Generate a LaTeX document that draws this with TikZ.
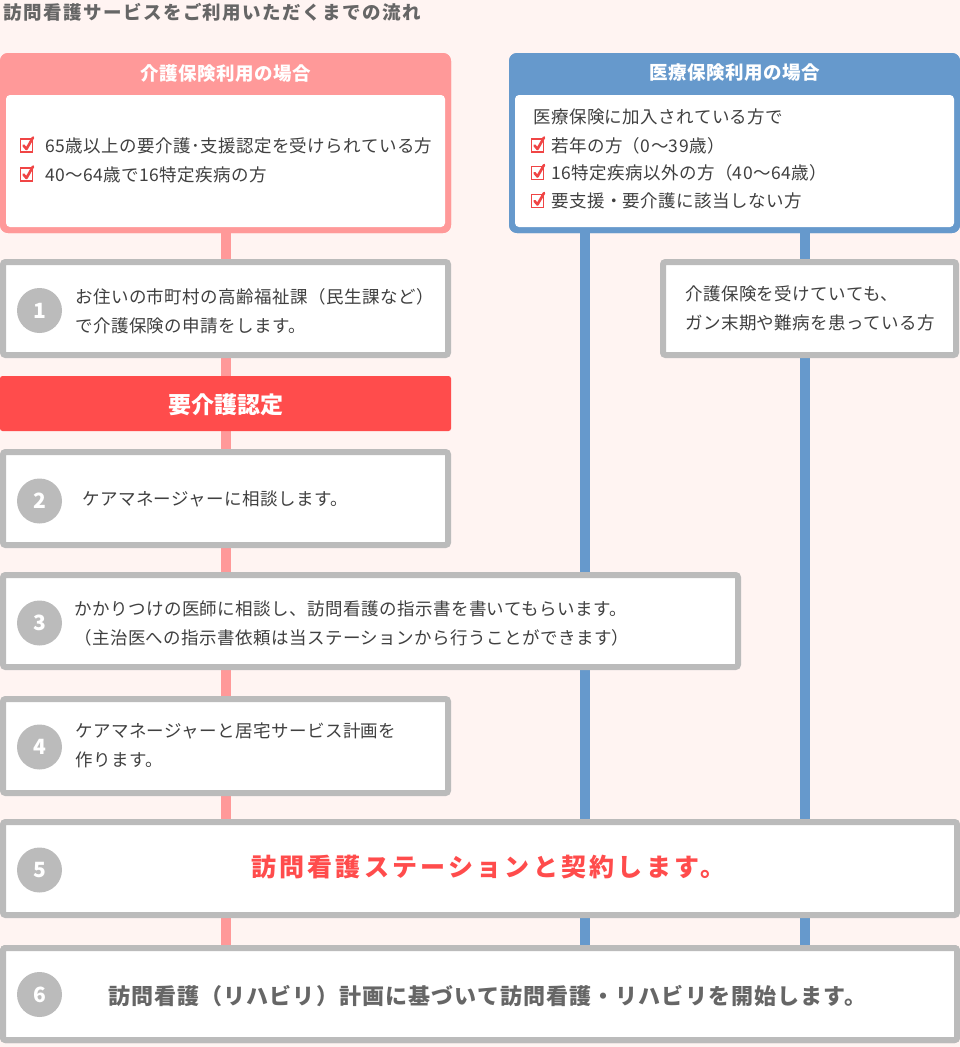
\documentclass[tikz,border=0pt]{standalone}
\usepackage{fontspec}
\setmainfont{Noto Sans CJK JP}
\definecolor{bg}{HTML}{FFF4F2}
\definecolor{pinkc}{HTML}{FF9999}
\definecolor{bluec}{HTML}{6699CC}
\definecolor{grayb}{HTML}{BBBBBB}
\definecolor{redc}{HTML}{FF4C4C}
\definecolor{txt}{HTML}{404040}
\definecolor{titlec}{HTML}{666666}
\definecolor{chkc}{HTML}{F04545}
\begin{document}
\begin{tikzpicture}[x=1pt,y=-1pt,
  stepbox/.style={draw=grayb, line width=6pt, fill=white, rounded corners=2.5pt, inner sep=0pt},
  topbox/.style={rounded corners=8pt, inner sep=0pt},
  innerw/.style={fill=white, rounded corners=4pt, inner sep=0pt},
  hdr/.style={text=white, font=\bfseries\fontsize{18.5}{20}\selectfont\addfontfeature{LetterSpace=3}, inner sep=0pt},
  body/.style={anchor=west, inner sep=0pt, text=txt, align=left, font=\fontsize{17.5}{29}\selectfont\addfontfeature{LetterSpace=2.5}},
  numc/.style={circle, fill=grayb, minimum size=45pt, inner sep=0pt, text=white, font=\bfseries\fontsize{21}{21}\selectfont},
  vline/.style={line width=10pt},
  chkbox/.pic={
    \draw[chkc, line width=1.4pt] (-6,-6.5) rectangle (6,6.5);
    \draw[chkc, line width=2.6pt, line cap=round, line join=round] (-3,0) -- (0,3.5) -- (6.5,-8);
  }]
\fill[bg] (0,0) rectangle (960,1047);
\useasboundingbox (0,0) rectangle (960,1047);

% title
\node[anchor=west, inner sep=0pt, text=titlec, font=\bfseries\fontsize{18.5}{20}\selectfont\addfontfeature{LetterSpace=8}] (title) at (3,12) {訪問看護サービスをご利用いただくまでの流れ};

% top boxes (shapes)
\node[topbox, fill=pinkc, minimum width=451, minimum height=180] (kaigo) at (225.5,143) {};
\node[topbox, fill=bluec, minimum width=451, minimum height=180] (iryo) at (734.5,143) {};

% bottom box needed for connectors
\node[stepbox, minimum width=954, minimum height=92] (s6) at (480,994) {};

% connectors
\coordinate (pk) at (226,0);
\coordinate (b1) at (585,0);
\coordinate (b2) at (805,0);
\draw[vline, pinkc] (kaigo.south -| pk) -- (s6.north -| pk);
\draw[vline, bluec] (iryo.south -| b1) -- (s6.north -| b1);
\draw[vline, bluec] (iryo.south -| b2) -- (s6.north -| b2);

% top boxes over lines
\node[topbox, fill=pinkc, minimum width=451, minimum height=180] (kaigo2) at (225.5,143) {};
\node[topbox, fill=bluec, minimum width=451, minimum height=180] (iryo2) at (734.5,143) {};
\node[innerw, minimum width=439, minimum height=132] (kaigoin) at (225.5,161) {};
\node[innerw, minimum width=439, minimum height=132] (iryoin) at (734.5,161) {};
\node[hdr] (kaigoh) at (225.5,73) {介護保険利用の場合};
\node[hdr] (iryoh) at (734.5,73) {医療保険利用の場合};

% left list
\pic at (26.5,145.5) {chkbox};
\node[body] (k1) at (45,145.5) {65歳以上の要介護･支援認定を受けられている方};
\pic at (26.5,174.5) {chkbox};
\node[body] (k2) at (45,174.5) {40～64歳で16特定疾病の方};

% right list
\node[body] (i0) at (533,117) {医療保険に加入されている方で};
\pic at (537.5,145.5) {chkbox};
\node[body] (i1) at (551,145.5) {若年の方（0～39歳）};
\pic at (537.5,173) {chkbox};
\node[body] (i2) at (551,173) {16特定疾病以外の方（40～64歳）};
\pic at (537.5,201) {chkbox};
\node[body] (i3) at (551,201) {要支援・要介護に該当しない方};

% step boxes
\node[stepbox, minimum width=445, minimum height=93] (s1) at (225.5,308.5) {};
\node[stepbox, minimum width=293, minimum height=93] (info) at (809.5,308.5) {};
\node[fill=redc, rounded corners=2.5pt, minimum width=451, minimum height=55, inner sep=0pt] (band) at (225.5,403.5) {};
\node[stepbox, minimum width=445, minimum height=93] (s2) at (225.5,498.5) {};
\node[stepbox, minimum width=735, minimum height=92] (s3) at (370.5,621) {};
\node[stepbox, minimum width=445, minimum height=94] (s4) at (225.5,746) {};
\node[stepbox, minimum width=954, minimum height=93] (s5) at (480,868.5) {};
\node[stepbox, minimum width=954, minimum height=92] (s6b) at (480,994) {};

% numbers
\node[numc] (n1) at (39.5,310.5) {1};
\node[numc] (n2) at (39.5,501) {2};
\node[numc] (n3) at (39.5,623) {3};
\node[numc] (n4) at (39.5,747) {4};
\node[numc] (n5) at (39.5,870) {5};
\node[numc] (n6) at (39.5,994.5) {6};

% texts
\node[body] (t1) at (75,310.8) {お住いの市町村の高齢福祉課（民生課など）\\で介護保険の申請をします。};
\node[body] (ti) at (685,308.5) {介護保険を受けていても、\\ガン末期や難病を患っている方};
\node[text=white, inner sep=0pt, font=\bfseries\fontsize{23}{25}\selectfont] (tb) at (225.5,405) {要介護認定};
\node[body] (t2) at (82,498.5) {ケアマネージャーに相談します。};
\node[body] (t3) at (74,623) {かかりつけの医師に相談し、訪問看護の指示書を書いてもらいます。\\（主治医への指示書依頼は当ステーションから行うことができます）};
\node[body] (t4) at (75,745) {ケアマネージャーと居宅サービス計画を\\作ります。};
\node[anchor=west, inner sep=0pt, text=redc, font=\bfseries\fontsize{25}{27}\selectfont\addfontfeature{LetterSpace=13}] (t5) at (251,867) {訪問看護ステーションと契約します。};
\node[anchor=west, inner sep=0pt, text=titlec, font=\bfseries\fontsize{22}{24}\selectfont\addfontfeature{LetterSpace=5}] (t6) at (108,996) {訪問看護（リハビリ）計画に基づいて訪問看護・リハビリを開始します。};
\end{tikzpicture}
\end{document}
